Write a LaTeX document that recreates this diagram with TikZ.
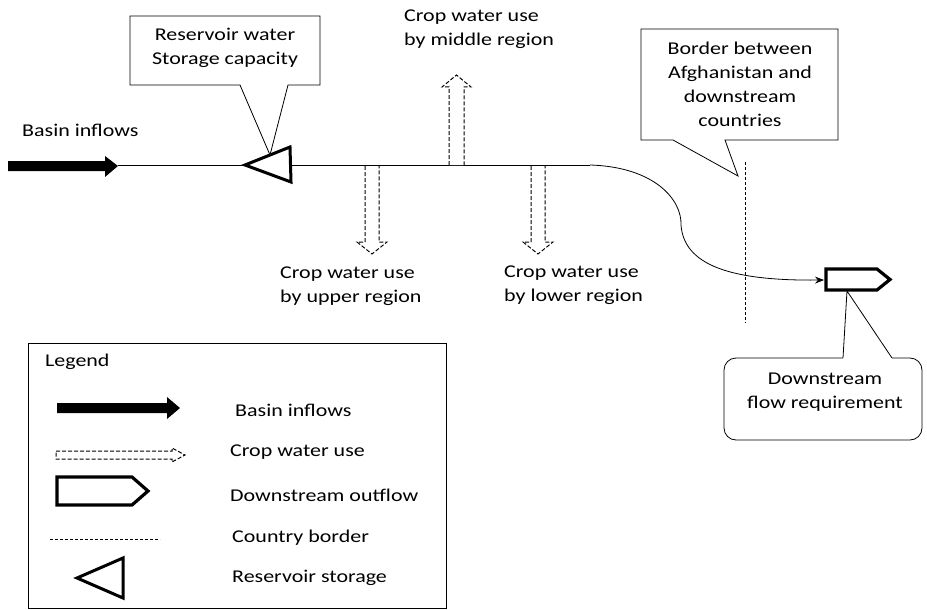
\documentclass[tikz,border=0pt]{standalone}
\usepackage{fontspec}
\setmainfont{Carlito}[FakeStretch=1.22]
\usetikzlibrary{arrows.meta}
\begin{document}
\begin{tikzpicture}[x=1pt,y=-1pt,
  lbl/.style={font=\fontsize{18}{24}\selectfont, inner sep=0pt, align=left},
  clbl/.style={font=\fontsize{18}{24}\selectfont, inner sep=0pt, align=center},
  thin line/.style={line width=0.8pt},
  crop/.style={dash pattern=on 4pt off 2pt, line width=1pt, fill=white},
  resv/.style={line width=3pt, line join=miter},
  outflow/.style={line width=3.2pt, line join=miter, fill=white},
  border/.style={dash pattern=on 3pt off 2pt, line width=0.8pt}]
\useasboundingbox (0,0) rectangle (927,610);
% ---------- main line ----------
\coordinate (inEnd) at (118,165);
\coordinate (resTip) at (245,165);
\coordinate (resBack) at (290,165);
\coordinate (bend) at (590,165);
\coordinate (outTail) at (824,280);
\draw[thin line] (inEnd) -- (resTip);
\draw[thin line] (resBack) -- (bend);
\draw[thin line, -{Stealth[length=9pt,width=7pt]}] (bend) .. controls (655,167) and (682,200) .. (681,225)
   .. controls (684,265) and (730,281) .. (outTail);
% basin inflow arrow
\fill (8,161) -- (105,161) -- (105,156) -- (118,166) -- (105,177) -- (105,171) -- (8,171) -- cycle;
\node[lbl, anchor=west] (inLbl) at (22,130) {Basin inflows};
% reservoir triangle
\draw[resv, fill=white] (resTip) -- (290,147) -- (291,182) -- cycle;
% reservoir callout
\draw[thin line, fill=white] (130,16) -- (320,16) -- (320,85) -- (288,85) -- (270,155) -- (240,85) -- (130,85) -- cycle;
\node[clbl] (resLbl) at (225,48) {Reservoir water\\Storage capacity};
% crop water use arrows
\draw[crop] (449,165) -- (449,87) -- (442,87) -- (456.5,75) -- (471,87) -- (464,87) -- (464,165);
\node[lbl, anchor=west] (midLbl) at (404,29) {Crop water use\\by middle region};
\draw[crop] (365,166) -- (365,242) -- (357,242) -- (372,254) -- (387,242) -- (379,242) -- (379,166);
\node[lbl, anchor=west] (upLbl) at (280,286) {Crop water use\\by upper region};
\draw[crop] (531,166) -- (531,242) -- (523,242) -- (538,254) -- (553,242) -- (545,242) -- (545,166);
\node[lbl, anchor=west] (lowLbl) at (504,285) {Crop water use\\by lower region};
% border
\coordinate (bTop) at (745,162);
\coordinate (bBot) at (745,323);
\draw[border] (bTop) -- (bBot);
\draw[thin line, fill=white] (641,29) -- (838,29) -- (838,140) -- (725,140) -- (738,176) -- (673,140) -- (641,140) -- cycle;
\node[clbl] (borderLbl) at (740,84) {Border between\\Afghanistan and\\downstream\\countries};
% downstream outflow
\draw[outflow] (826,269) -- (877,269) -- (890,279.5) -- (877,290) -- (826,290) -- cycle;
% requirement callout
\node[draw, thin line, rounded corners=12pt, minimum width=198pt, minimum height=82pt] (reqBox) at (823,399) {};
\fill[white] (843,356.5) rectangle (892,359.5);
\draw[thin line] (843,358) -- (847,291) -- (892,358);
\node[clbl] (reqLbl) at (825,392) {Downstream\\flow requirement};
% ---------- legend ----------
\node[draw, thin line, minimum width=418pt, minimum height=265pt, anchor=north west] (legend) at (28,343) {};
\node[lbl, anchor=west] (legTitle) at (45,362) {Legend};
\fill (57,403) -- (167,403) -- (167,397) -- (180,408) -- (167,419) -- (167,413) -- (57,413) -- cycle;
\node[lbl, anchor=west] (l1) at (235,410) {Basin inflows};
\draw[crop] (56,451) -- (172,451) -- (172,448) -- (185,455) -- (172,462) -- (172,459) -- (56,459) -- cycle;
\node[lbl, anchor=west] (l2) at (230,452) {Crop water use};
\draw[outflow] (57,477) -- (132,477) -- (148,491) -- (132,505) -- (57,505) -- cycle;
\node[lbl, anchor=west] (l3) at (230,495) {Downstream outflow};
\draw[border] (50,539) -- (160,539);
\node[lbl, anchor=west] (l4) at (232,538) {Country border};
\draw[resv] (77,578) -- (123,558) -- (123,598) -- cycle;
\node[lbl, anchor=west] (l5) at (232,578) {Reservoir storage};
\end{tikzpicture}
\end{document}
